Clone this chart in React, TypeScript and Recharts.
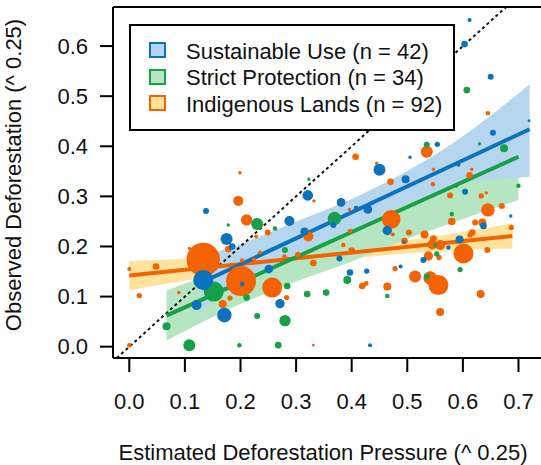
import React from "react";
import {
  ComposedChart,
  Scatter,
  Line,
  Area,
  XAxis,
  YAxis,
  ZAxis,
  ReferenceLine,
  Label,
} from "recharts";

// each point: [estimated pressure, observed deforestation, area weight]
const sustainableUse: [number, number, number][] = [
  [0.133, 0.133, 100], [0.121, 0.083, 25], [0.171, 0.063, 53], [0.175, 0.215, 36],
  [0.185, 0.2, 11], [0.138, 0.271, 9], [0.203, 0.125, 5], [0.251, 0.155, 19],
  [0.271, 0.086, 22], [0.288, 0.251, 25], [0.315, 0.23, 16], [0.321, 0.302, 28],
  [0.381, 0.288, 19], [0.378, 0.176, 9], [0.408, 0.277, 5], [0.397, 0.148, 11],
  [0.427, 0.151, 7], [0.433, 0.003, 4], [0.429, 0.274, 19], [0.45, 0.353, 36],
  [0.464, 0.232, 22], [0.488, 0.16, 4], [0.497, 0.334, 16], [0.505, 0.378, 3],
  [0.529, 0.173, 9], [0.574, 0.198, 5], [0.594, 0.214, 16], [0.604, 0.309, 9],
  [0.637, 0.241, 11], [0.686, 0.261, 3], [0.592, 0.363, 4], [0.612, 0.652, 4],
  [0.603, 0.604, 11], [0.65, 0.539, 9], [0.719, 0.451, 2], [0.654, 0.427, 9],
  [0.554, 0.404, 7], [0.367, 0.243, 9], [0.494, 0.209, 3],
];

const strictProtection: [number, number, number][] = [
  [0.067, 0.041, 16], [0.108, 0.003, 36], [0.152, 0.11, 100], [0.198, 0.003, 5],
  [0.211, 0.098, 11], [0.178, 0.243, 3], [0.23, 0.245, 36], [0.262, 0.236, 5],
  [0.23, 0.061, 9], [0.268, 0.003, 11], [0.28, 0.052, 32], [0.284, 0.121, 11],
  [0.28, 0.193, 9], [0.32, 0.105, 11], [0.323, 0.334, 3], [0.354, 0.108, 11],
  [0.369, 0.256, 45], [0.392, 0.133, 16], [0.464, 0.101, 5], [0.535, 0.14, 9],
  [0.553, 0.185, 7], [0.55, 0.203, 4], [0.58, 0.265, 5], [0.595, 0.154, 7],
  [0.588, 0.321, 4], [0.674, 0.396, 16], [0.7, 0.321, 5], [0.607, 0.512, 11],
  [0.63, 0.405, 3], [0.535, 0.403, 9],
];

const indigenousLands: [number, number, number][] = [
  [0.0, 0.155, 4], [0.048, 0.16, 11], [0.018, 0.102, 7], [0.0, 0.003, 5],
  [0.089, 0.108, 3], [0.133, 0.174, 280], [0.201, 0.131, 225], [0.108, 0.196, 3],
  [0.196, 0.291, 25], [0.199, 0.347, 3], [0.211, 0.253, 32], [0.178, 0.195, 11],
  [0.168, 0.085, 16], [0.181, 0.097, 7], [0.257, 0.118, 100], [0.283, 0.098, 7],
  [0.249, 0.228, 9], [0.228, 0.22, 4], [0.224, 0.174, 4], [0.235, 0.188, 4],
  [0.203, 0.172, 5], [0.279, 0.18, 5], [0.303, 0.184, 7], [0.322, 0.22, 25],
  [0.331, 0.167, 11], [0.332, 0.291, 3], [0.331, 0.003, 2], [0.407, 0.379, 11],
  [0.396, 0.274, 3], [0.397, 0.231, 5], [0.385, 0.203, 5], [0.4, 0.192, 11],
  [0.419, 0.121, 11], [0.426, 0.126, 6], [0.464, 0.12, 16], [0.471, 0.254, 87],
  [0.47, 0.329, 11], [0.445, 0.366, 3], [0.478, 0.156, 7], [0.474, 0.224, 4],
  [0.535, 0.389, 36], [0.547, 0.354, 3], [0.546, 0.324, 5], [0.495, 0.211, 11],
  [0.503, 0.228, 9], [0.514, 0.14, 36], [0.531, 0.224, 16], [0.541, 0.137, 45],
  [0.556, 0.123, 100], [0.545, 0.204, 25], [0.559, 0.203, 25], [0.538, 0.181, 22],
  [0.557, 0.178, 7], [0.547, 0.216, 11], [0.559, 0.069, 16], [0.577, 0.302, 9],
  [0.58, 0.25, 14], [0.601, 0.186, 100], [0.612, 0.342, 11], [0.616, 0.354, 3],
  [0.622, 0.248, 9], [0.635, 0.248, 16], [0.633, 0.301, 7], [0.642, 0.307, 3],
  [0.645, 0.273, 45], [0.644, 0.193, 9], [0.632, 0.105, 16], [0.67, 0.281, 9],
  [0.687, 0.238, 7], [0.645, 0.466, 5], [0.617, 0.228, 11], [0.613, 0.223, 7],
];

// fitted lines (start, end)
const suFit: [number, number][] = [[0.13, 0.128], [0.72, 0.434]];
const spFit: [number, number][] = [[0.067, 0.062], [0.7, 0.379]];
const ilFit: [number, number][] = [[0.0, 0.142], [0.689, 0.221]];

// confidence bands
const suBandX = [0.13, 0.2, 0.3, 0.41, 0.53, 0.6, 0.66, 0.72];
const suBandLow = [0.075, 0.13, 0.185, 0.24, 0.3, 0.325, 0.334, 0.339];
const suBandHigh = [0.18, 0.205, 0.25, 0.3, 0.37, 0.42, 0.47, 0.524];

const spBandX = [0.067, 0.2, 0.3, 0.4, 0.5, 0.6, 0.7];
const spBandLow = [0.012, 0.085, 0.13, 0.17, 0.215, 0.255, 0.293];
const spBandHigh = [0.112, 0.172, 0.227, 0.287, 0.342, 0.402, 0.464];

const ilBandX = [0.0, 0.1, 0.2, 0.35, 0.5, 0.6, 0.689];
const ilBandLow = [0.113, 0.1315, 0.149, 0.17, 0.1865, 0.193, 0.196];
const ilBandHigh = [0.171, 0.1755, 0.181, 0.194, 0.2125, 0.229, 0.246];

const xTicks = [0, 0.1, 0.2, 0.3, 0.4, 0.5, 0.6, 0.7];
const yTicks = [0, 0.1, 0.2, 0.3, 0.4, 0.5, 0.6];

const BLUE = "#0b72bd";
const GREEN = "#17a048";
const ORANGE = "#f46300";
const BLUE_BAND = "#b6d5ef";
const GREEN_BAND = "#b6e5c1";
const ORANGE_BAND = "#ffe29c";

const FONT = "'Liberation Sans', Arial, sans-serif";

const toPoints = (rows: [number, number, number][]) =>
  rows.map(([x, y, w]) => ({ x, y, w }));
const toLine = (rows: [number, number][]) => rows.map(([x, y]) => ({ x, y }));
const toBand = (xs: number[], lo: number[], hi: number[]) =>
  xs.map((x, i) => ({ x, band: [lo[i], hi[i]] }));

const legendItems = [
  { label: "Sustainable Use (n = 42)", stroke: BLUE, fill: BLUE_BAND },
  { label: "Strict Protection (n = 34)", stroke: GREEN, fill: GREEN_BAND },
  { label: "Indigenous Lands (n = 92)", stroke: ORANGE, fill: ORANGE_BAND },
];

const fmt = (v: number) => v.toFixed(1);

export default function App() {
  return (
    <div
      style={{
        position: "absolute",
        left: 0,
        top: 0,
        width: 541,
        height: 465,
        background: "#fff",
        fontFamily: FONT,
      }}
    >
      <ComposedChart
        width={541}
        height={465}
        margin={{ top: 7, right: 0, bottom: 0, left: 0 }}
      >
        <XAxis
          type="number"
          dataKey="x"
          domain={[-0.0293, 0.7405]}
          allowDataOverflow
          ticks={xTicks}
          tickFormatter={fmt}
          height={107}
          tickSize={14}
          tickMargin={21}
          axisLine={{ stroke: "#000", strokeWidth: 2 }}
          tickLine={{ stroke: "#000", strokeWidth: 2 }}
          tick={{ fill: "#111", fontSize: 22, fontFamily: FONT }}
        >
          <Label
            content={() => (
              <text
                x={323}
                y={460}
                textAnchor="middle"
                fill="#111"
                fontSize={22}
                fontFamily={FONT}
              >
                Estimated Deforestation Pressure (^ 0.25)
              </text>
            )}
          />
        </XAxis>
        <YAxis
          type="number"
          dataKey="y"
          domain={[-0.0226, 0.678]}
          allowDataOverflow
          ticks={yTicks}
          tickFormatter={fmt}
          width={113}
          tickSize={13}
          tickMargin={12}
          axisLine={{ stroke: "#000", strokeWidth: 2 }}
          tickLine={{ stroke: "#000", strokeWidth: 2 }}
          tick={{ fill: "#111", fontSize: 22, fontFamily: FONT }}
        >
          <Label
            content={() => (
              <text
                x={21}
                y={175}
                transform="rotate(-90 21 175)"
                textAnchor="middle"
                fill="#111"
                fontSize={22}
                fontFamily={FONT}
              >
                Observed Deforestation (^ 0.25)
              </text>
            )}
          />
        </YAxis>
        <ZAxis
          zAxisId="w"
          type="number"
          dataKey="w"
          domain={[0, 300]}
          range={[0, 300 * Math.PI]}
        />

        <Area
          data={toBand(ilBandX, ilBandLow, ilBandHigh)}
          dataKey="band"
          type="monotone"
          stroke="none"
          fill={ORANGE_BAND}
          fillOpacity={1}
          isAnimationActive={false}
        />
        <Area
          data={toBand(spBandX, spBandLow, spBandHigh)}
          dataKey="band"
          type="monotone"
          stroke="none"
          fill={GREEN_BAND}
          fillOpacity={1}
          isAnimationActive={false}
        />
        <Area
          data={toBand(suBandX, suBandLow, suBandHigh)}
          dataKey="band"
          type="monotone"
          stroke="none"
          fill={BLUE_BAND}
          fillOpacity={1}
          isAnimationActive={false}
        />

        <ReferenceLine
          segment={[
            { x: -0.0226, y: -0.0226 },
            { x: 0.678, y: 0.678 },
          ]}
          stroke="#111"
          strokeWidth={2}
          strokeDasharray="3 3"
          ifOverflow="visible"
        />
        <ReferenceLine
          y={0.678}
          stroke="#000"
          strokeWidth={2}
          ifOverflow="visible"
        />

        <Scatter
          data={toPoints(indigenousLands)}
          zAxisId="w"
          fill={ORANGE}
          isAnimationActive={false}
        />
        <Scatter
          data={toPoints(strictProtection)}
          zAxisId="w"
          fill={GREEN}
          isAnimationActive={false}
        />
        <Scatter
          data={toPoints(sustainableUse)}
          zAxisId="w"
          fill={BLUE}
          isAnimationActive={false}
        />

        <Line
          data={toLine(ilFit)}
          dataKey="y"
          type="linear"
          stroke={ORANGE}
          strokeWidth={4}
          dot={false}
          activeDot={false}
          isAnimationActive={false}
        />
        <Line
          data={toLine(spFit)}
          dataKey="y"
          type="linear"
          stroke={GREEN}
          strokeWidth={4}
          dot={false}
          activeDot={false}
          isAnimationActive={false}
        />
        <Line
          data={toLine(suFit)}
          dataKey="y"
          type="linear"
          stroke={BLUE}
          strokeWidth={4}
          dot={false}
          activeDot={false}
          isAnimationActive={false}
        />
      </ComposedChart>

      <div
        style={{
          position: "absolute",
          left: 129,
          top: 24,
          width: 326,
          height: 107,
          boxSizing: "border-box",
          border: "2px solid #000",
          background: "#fff",
        }}
      >
        {legendItems.map((item, i) => (
          <div
            key={item.label}
            style={{
              position: "absolute",
              left: 18,
              top: 12.5 + i * 26.5,
              height: 25,
              display: "flex",
              alignItems: "center",
              whiteSpace: "nowrap",
            }}
          >
            <span
              style={{
                display: "inline-block",
                width: 17,
                height: 16,
                boxSizing: "border-box",
                border: `2px solid ${item.stroke}`,
                background: item.fill,
                marginRight: 20,
                marginTop: -2,
              }}
            />
            <span style={{ fontSize: 22, lineHeight: "25px", color: "#111" }}>
              {item.label}
            </span>
          </div>
        ))}
      </div>
    </div>
  );
}
